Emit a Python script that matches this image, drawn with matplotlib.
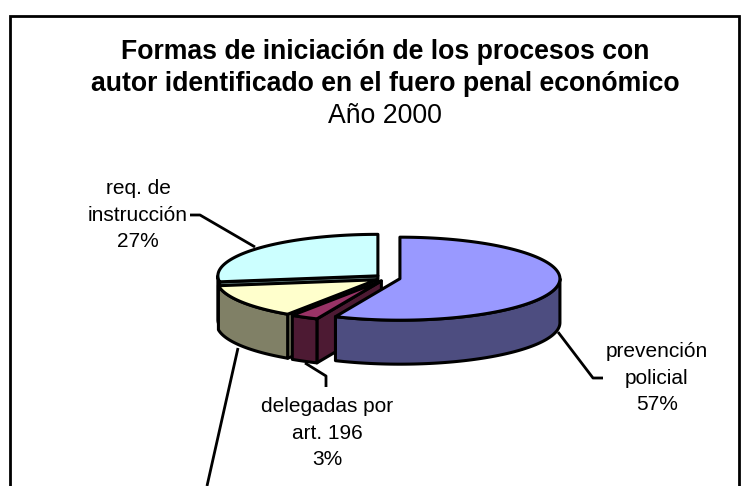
import numpy as np
import matplotlib
matplotlib.use("Agg")
import matplotlib.pyplot as plt
from matplotlib.patches import Polygon, Rectangle

plt.rcParams['font.family'] = ['Liberation Sans', 'DejaVu Sans']

# slices clockwise from 12 o'clock
labels = ["prevención\npolicial", "delegadas por\nart. 196", "", "req. de\ninstrucción"]
values = [56.6, 2.8, 13.3, 27.3]
top_colors = ["#9999FF", "#993366", "#FFFFCC", "#CCFFFF"]
side_colors = ["#4D4D80", "#4D1A33", "#808066", "#668080"]

title_lines = ["Formas de iniciación de los procesos con",
               "autor identificado en el fuero penal económico"]
subtitle = "Año 2000"

# pie geometry in pixels
cx, cy = 387.5, 278
rx, ry = 160, 41.5
depth = 44
explode = 12.7


def ellipse_xy(x0, y0, deg):
    a = np.radians(deg)
    return x0 + rx * np.sin(a), y0 - ry * np.cos(a)


def draw_slice(ax, start, end, top, side):
    mid = np.radians((start + end) / 2)
    x0 = cx + explode * np.sin(mid)
    y0 = cy - explode * ry / rx * np.cos(mid)
    kw = dict(edgecolor="black", linewidth=2.2, joinstyle="round")

    # cut faces, only the ones turned to the viewer
    for ang, show in [(start, np.sin(np.radians(start)) < 0),
                      (end, np.sin(np.radians(end)) > 0)]:
        if show:
            ex, ey = ellipse_xy(x0, y0, ang)
            ax.add_patch(Polygon([(x0, y0), (ex, ey), (ex, ey + depth), (x0, y0 + depth)],
                                 facecolor=side, **kw))

    # outer wall for the front part of the arc
    lo, hi = max(start, 90), min(end, 270)
    if hi > lo:
        t = np.linspace(lo, hi, 80)
        xs, ys = ellipse_xy(x0, y0, t)
        pts = list(zip(xs, ys)) + list(zip(xs[::-1], ys[::-1] + depth))
        ax.add_patch(Polygon(pts, facecolor=side, **kw))

    # top face
    t = np.linspace(start, end, 120)
    xs, ys = ellipse_xy(x0, y0, t)
    ax.add_patch(Polygon([(x0, y0)] + list(zip(xs, ys)), facecolor=top, **kw))


fig = plt.figure(figsize=(7.49, 4.86), dpi=100)
ax = fig.add_axes([0, 0, 1, 1])
ax.set_xlim(0, 749)
ax.set_ylim(486, 0)
ax.axis("off")

# chart frame runs past the bottom of the picture
ax.add_patch(Rectangle((9.5, 16), 729, 500, facecolor="white", edgecolor="black", linewidth=2.0))

ax.text(385, 52, title_lines[0], ha="center", va="center", fontsize=19.2, fontweight="bold")
ax.text(385, 84, title_lines[1], ha="center", va="center", fontsize=19.2, fontweight="bold")
ax.text(385, 116, subtitle, ha="center", va="center", fontsize=19.2)

edges = np.concatenate([[0], np.cumsum(values)]) * 360 / sum(values)
# paint back to front
for i in [3, 2, 1, 0]:
    draw_slice(ax, edges[i], edges[i + 1], top_colors[i], side_colors[i])

# leader lines
leaders = [
    [(558, 332), (593, 378), (603, 378)],
    [(305, 363), (326, 376), (326, 387)],
    [(238, 348), (207, 486)],
    [(255, 247), (200, 215), (190, 215)],
]
for pts in leaders:
    ax.plot(*zip(*pts), color="black", linewidth=2.0, solid_capstyle="butt", zorder=1.5)

# data labels
label_pos = [(657, 378), (327, 433), None, (138, 215)]
for lab, v, pos in zip(labels, values, label_pos):
    if pos is not None:
        ax.text(pos[0], pos[1], f"{lab}\n{v:.0f}%", ha="center", va="center",
                fontsize=15, linespacing=1.53)

fig.savefig("out.png", dpi=100)
